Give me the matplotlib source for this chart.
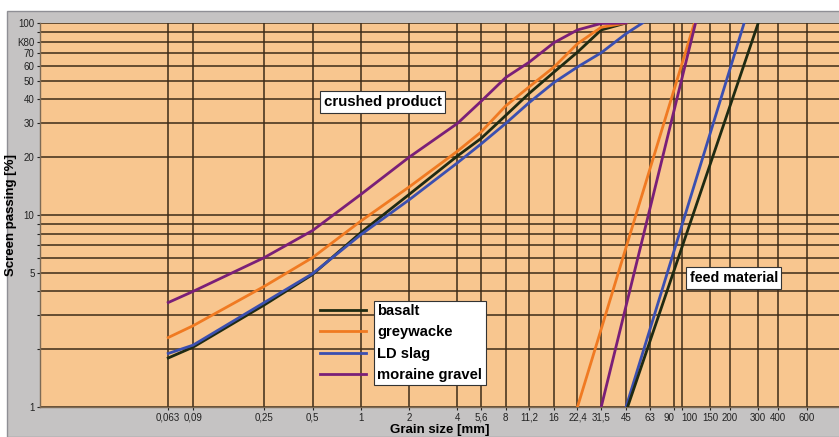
import matplotlib
matplotlib.use("Agg")
import matplotlib.pyplot as plt
from matplotlib.patches import Rectangle

plt.rcParams["font.family"] = ["Liberation Sans", "DejaVu Sans"]

# sieve sizes in mm (x axis ticks)
tick_values = [0.063, 0.09, 0.25, 0.5, 1, 2, 4, 5.6, 8, 11.2, 16, 22.4, 31.5,
               45, 63, 90, 100, 150, 200, 300, 400, 600]
tick_labels = ["0,063", "0,09", "0,25", "0,5", "1", "2", "4", "5,6", "8", "11,2",
               "16", "22,4", "31,5", "45", "63", "90", "100", "150", "200", "300",
               "400", "600"]

# y grid / labels
y_grid = [1, 2, 3, 4, 5, 6, 7, 8, 9, 10, 20, 30, 40, 50, 60, 70, 80, 90, 100]
y_labels = {1: "1", 5: "5", 10: "10", 20: "20", 30: "30", 40: "40", 50: "50",
            60: "60", 70: "70", 80: "K80", 100: "100"}

# crushed product curves
sieve = [0.063, 0.09, 0.25, 0.5, 1, 2, 4, 5.6, 8, 11.2, 16, 22.4, 31.5, 45]
basalt = [1.8, 2.05, 3.4, 4.9, 8.1, 12.8, 20.3, 25, 33, 43, 55.5, 70.5, 92, 100]
greywacke = [2.3, 2.65, 4.25, 6.0, 9.3, 14.0, 21.5, 27, 37, 46.5, 59, 78, 95, 100]
moraine = [3.5, 4.0, 6.0, 8.3, 12.8, 20, 30, 39, 52, 62.5, 79, 92, 99.5, 100]
slag_sieve = sieve + [57]
slag = [1.9, 2.1, 3.5, 4.95, 7.9, 12.0, 18.7, 23.4, 30, 38.5, 49, 59, 70, 88, 100]

# feed material lines (grain size at 1 % and 100 %)
feed_pass = [1, 100]
feed_basalt = [46, 300]
feed_greywacke = [22.4, 120]
feed_slag = [45, 245]
feed_moraine = [31.5, 122]

colors = {
    "basalt": "#1f2a12",
    "greywacke": "#f07a22",
    "LD slag": "#3b4fb0",
    "moraine gravel": "#7a1f78",
}

fig = plt.figure(figsize=(8.39, 4.37), dpi=100)
fig.patch.set_facecolor("white")
# gray panel behind the chart
fig.patches.append(Rectangle((7 / 839, 0), 1, 1 - 11 / 437, transform=fig.transFigure,
                             facecolor="#c5c3c3", edgecolor="#8f8f95", lw=1.0, zorder=-10))

ax = fig.add_axes([40 / 839, 30 / 437, 800 / 839, 384 / 437])
ax.set_facecolor("#f8c68f")
ax.set_xscale("log")
ax.set_yscale("log")
ax.set_xlim(0.01, 970)
ax.set_ylim(1, 100)

for v in tick_values:
    ax.axvline(v, color="#3d2b18", lw=1.1, zorder=1)
for v in y_grid:
    ax.axhline(v, color="#3d2b18", lw=1.1, zorder=1)

lw = 2.0
ax.plot(sieve, basalt, color=colors["basalt"], lw=lw, label="basalt", zorder=3)
ax.plot(sieve, greywacke, color=colors["greywacke"], lw=lw, label="greywacke", zorder=3)
ax.plot(slag_sieve, slag, color=colors["LD slag"], lw=lw, label="LD slag", zorder=3)
ax.plot(sieve, moraine, color=colors["moraine gravel"], lw=lw, label="moraine gravel", zorder=3)

ax.plot(feed_greywacke, feed_pass, color=colors["greywacke"], lw=lw, zorder=3)
ax.plot(feed_moraine, feed_pass, color=colors["moraine gravel"], lw=lw, zorder=3)
ax.plot(feed_slag, feed_pass, color=colors["LD slag"], lw=lw, zorder=3)
ax.plot(feed_basalt, feed_pass, color=colors["basalt"], lw=lw, zorder=3)

ax.set_xticks(tick_values)
ax.set_xticklabels(tick_labels)
ax.xaxis.set_minor_locator(matplotlib.ticker.NullLocator())
ax.set_yticks(y_grid)
ax.set_yticklabels([y_labels.get(v, "") for v in y_grid])
ax.yaxis.set_minor_locator(matplotlib.ticker.NullLocator())
ax.tick_params(axis="both", labelsize=7, colors="#222222", length=2, width=0.8, pad=2)

# 90 and 100 sit very close: push them apart
for lab in ax.get_xticklabels():
    if lab.get_text() == "90":
        lab.set_horizontalalignment("right")
    elif lab.get_text() == "100":
        lab.set_horizontalalignment("left")

for side in ["top", "right"]:
    ax.spines[side].set_visible(False)
for side in ["left", "bottom"]:
    ax.spines[side].set_color("#7d6a55")
    ax.spines[side].set_linewidth(1.0)

ax.set_xlabel("Grain size [mm]", fontsize=9.5, fontweight="bold", labelpad=1)
ax.set_ylabel("Screen passing [%]", fontsize=9.5, fontweight="bold")
ax.yaxis.set_label_coords(-0.029, 0.5)

box = dict(boxstyle="square,pad=0.25", facecolor="white", edgecolor="#333333", lw=0.8)
ax.text(1.37, 38.8, "crushed product", fontsize=10.8, fontweight="bold", ha="center",
        va="center", bbox=box, zorder=6)
ax.text(211, 4.7, "feed material", fontsize=10.3, fontweight="bold", ha="center",
        va="center", bbox=box, zorder=6)

leg = ax.legend(loc="upper left", bbox_to_anchor=(0.35, 0.268), frameon=False,
                borderpad=0, borderaxespad=0, handlelength=3.1, handletextpad=0.8,
                labelspacing=0.5, prop={"size": 10.6, "weight": "bold"})
leg.set_zorder(6)

# white box behind legend labels only (handles stay on the chart background)
fig.canvas.draw()
renderer = fig.canvas.get_renderer()
bbs = [t.get_window_extent(renderer) for t in leg.get_texts()]
x0 = min(b.x0 for b in bbs) - 3
x1 = max(b.x1 for b in bbs) + 4
y0 = min(b.y0 for b in bbs) - 3
y1 = max(b.y1 for b in bbs) + 3
inv = ax.transAxes.inverted()
(ax0, ay0), (ax1, ay1) = inv.transform([(x0, y0), (x1, y1)])
ax.add_patch(Rectangle((ax0, ay0), ax1 - ax0, ay1 - ay0, transform=ax.transAxes,
                       facecolor="white", edgecolor="#333333", lw=0.8, zorder=5))

fig.savefig("out.png", dpi=100)
